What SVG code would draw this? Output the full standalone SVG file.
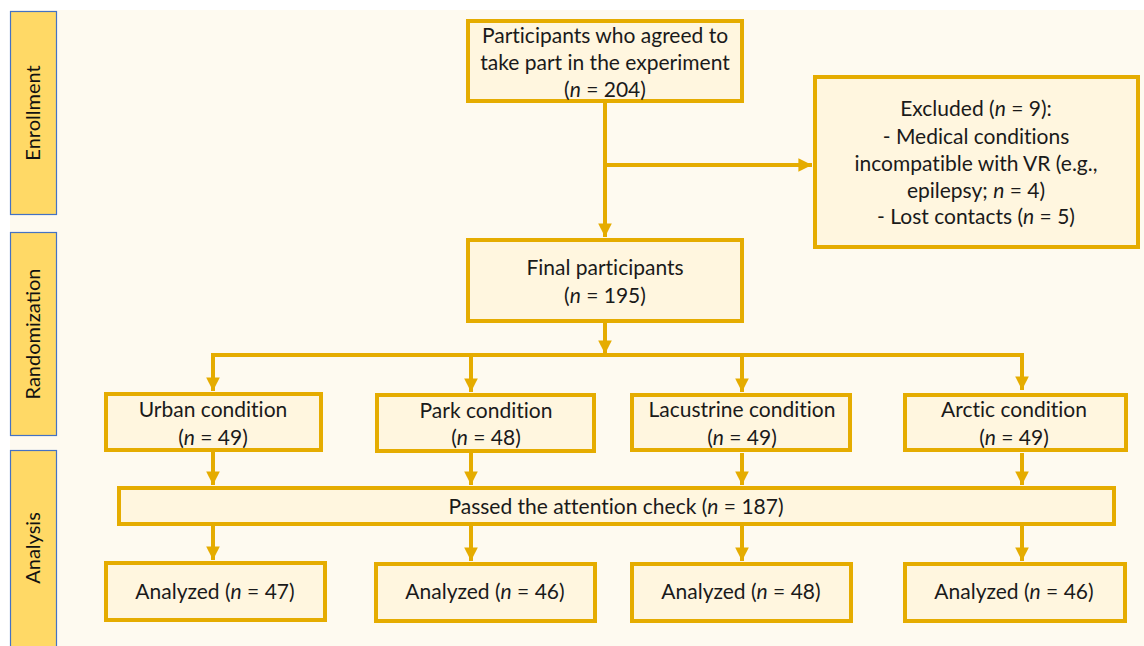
<svg xmlns="http://www.w3.org/2000/svg" width="1144" height="646" viewBox="0 0 1144 646">
<style>
.bg{fill:#FEFAF0}
.phase{fill:#FFD966;stroke:#4472C4;stroke-width:1.2}
.phase-t{font-family:Lato,"Open Sans",sans-serif;font-size:20px;fill:#111;text-anchor:middle}
.box{fill:#FFF6DF;stroke:#E5AC00;stroke-width:4}
.t{font-family:Lato,"Open Sans",sans-serif;font-size:21px;fill:#1a1a1a;text-anchor:middle;font-variant-ligatures:none}
.ln{stroke:#E5AC00;stroke-width:4;fill:none}
</style>
<defs>
<marker id="ah" viewBox="0 0 10 10" refX="10" refY="5" markerWidth="3.4" markerHeight="3.4" orient="auto" markerUnits="strokeWidth">
<path d="M0,0 L10,5 L0,10 z" fill="#E5AC00"/>
</marker>
</defs>
<rect width="1144" height="646" fill="#FFFFFF"/>
<rect class="bg" x="10" y="10" width="1134" height="636"/>
<g id="phase-enrollment">
<rect class="phase" x="10.5" y="11.5" width="46" height="203"/>
<text class="phase-t" transform="translate(40,113) rotate(-90)">Enrollment</text>
</g>
<g id="phase-randomization">
<rect class="phase" x="10.5" y="232.5" width="46" height="203"/>
<text class="phase-t" transform="translate(40,334) rotate(-90)">Randomization</text>
</g>
<g id="phase-analysis">
<rect class="phase" x="10.5" y="450.5" width="46" height="200"/>
<text class="phase-t" transform="translate(40,548) rotate(-90)">Analysis</text>
</g>
<g id="connectors">
<line class="ln" x1="605" y1="103" x2="605" y2="237" marker-end="url(#ah)"/>
<line class="ln" x1="605" y1="165" x2="812" y2="165" marker-end="url(#ah)"/>
<line class="ln" x1="605" y1="323" x2="605" y2="354" marker-end="url(#ah)"/>
<polyline class="ln" points="213,390 213,355 1022,355 1022,390" marker-end="url(#ah)"/>
<line class="ln" x1="213" y1="357" x2="213" y2="391" marker-end="url(#ah)"/>
<line class="ln" x1="471" y1="355" x2="471" y2="392" marker-end="url(#ah)"/>
<line class="ln" x1="742" y1="355" x2="742" y2="392" marker-end="url(#ah)"/>
<line class="ln" x1="213" y1="452" x2="213" y2="485" marker-end="url(#ah)"/>
<line class="ln" x1="471" y1="453" x2="471" y2="485" marker-end="url(#ah)"/>
<line class="ln" x1="742" y1="453" x2="742" y2="485" marker-end="url(#ah)"/>
<line class="ln" x1="1022" y1="453" x2="1022" y2="485" marker-end="url(#ah)"/>
<line class="ln" x1="213" y1="526" x2="213" y2="560" marker-end="url(#ah)"/>
<line class="ln" x1="471" y1="526" x2="471" y2="561" marker-end="url(#ah)"/>
<line class="ln" x1="742" y1="526" x2="742" y2="561" marker-end="url(#ah)"/>
<line class="ln" x1="1022" y1="526" x2="1022" y2="561" marker-end="url(#ah)"/>
</g>
<g id="agreed">
<rect class="box" x="468" y="21" width="274" height="80"/>
<text class="t" x="605" y="43">Participants who agreed to</text>
<text class="t" x="605" y="70">take part in the experiment</text>
<text class="t" x="605" y="97">(<tspan font-style="italic">n</tspan> = 204)</text>
</g>
<g id="excluded">
<rect class="box" x="815" y="77" width="323" height="170"/>
<text class="t" x="976" y="116">Excluded (<tspan font-style="italic">n</tspan> = 9):</text>
<text class="t" x="976" y="144">- Medical conditions</text>
<text class="t" x="976" y="171">incompatible with VR (e.g.,</text>
<text class="t" x="976" y="198">epilepsy; <tspan font-style="italic">n</tspan> = 4)</text>
<text class="t" x="976" y="224">- Lost contacts (<tspan font-style="italic">n</tspan> = 5)</text>
</g>
<g id="final">
<rect class="box" x="468" y="240" width="274" height="81"/>
<text class="t" x="605" y="275">Final participants</text>
<text class="t" x="605" y="303">(<tspan font-style="italic">n</tspan> = 195)</text>
</g>
<g id="urban">
<rect class="box" x="106" y="394" width="215" height="56"/>
<text class="t" x="213" y="417">Urban condition</text>
<text class="t" x="213" y="445">(<tspan font-style="italic">n</tspan> = 49)</text>
</g>
<g id="park">
<rect class="box" x="377" y="395" width="217" height="56"/>
<text class="t" x="486" y="418">Park condition</text>
<text class="t" x="486" y="445">(<tspan font-style="italic">n</tspan> = 48)</text>
</g>
<g id="lacustrine">
<rect class="box" x="632" y="395" width="218" height="55"/>
<text class="t" x="742" y="417">Lacustrine condition</text>
<text class="t" x="742" y="445">(<tspan font-style="italic">n</tspan> = 49)</text>
</g>
<g id="arctic">
<rect class="box" x="905" y="395" width="221" height="55"/>
<text class="t" x="1014" y="417">Arctic condition</text>
<text class="t" x="1014" y="445">(<tspan font-style="italic">n</tspan> = 49)</text>
</g>
<g id="attention">
<rect class="box" x="119" y="488" width="995" height="36"/>
<text class="t" x="616" y="514">Passed the attention check (<tspan font-style="italic">n</tspan> = 187)</text>
</g>
<g id="analyzed-urban">
<rect class="box" x="106" y="563" width="219" height="57"/>
<text class="t" x="215" y="599">Analyzed (<tspan font-style="italic">n</tspan> = 47)</text>
</g>
<g id="analyzed-park">
<rect class="box" x="376" y="564" width="219" height="57"/>
<text class="t" x="485" y="599">Analyzed (<tspan font-style="italic">n</tspan> = 46)</text>
</g>
<g id="analyzed-lacustrine">
<rect class="box" x="632" y="564" width="219" height="57"/>
<text class="t" x="741" y="599">Analyzed (<tspan font-style="italic">n</tspan> = 48)</text>
</g>
<g id="analyzed-arctic">
<rect class="box" x="905" y="564" width="220" height="57"/>
<text class="t" x="1014" y="599">Analyzed (<tspan font-style="italic">n</tspan> = 46)</text>
</g>
</svg>
